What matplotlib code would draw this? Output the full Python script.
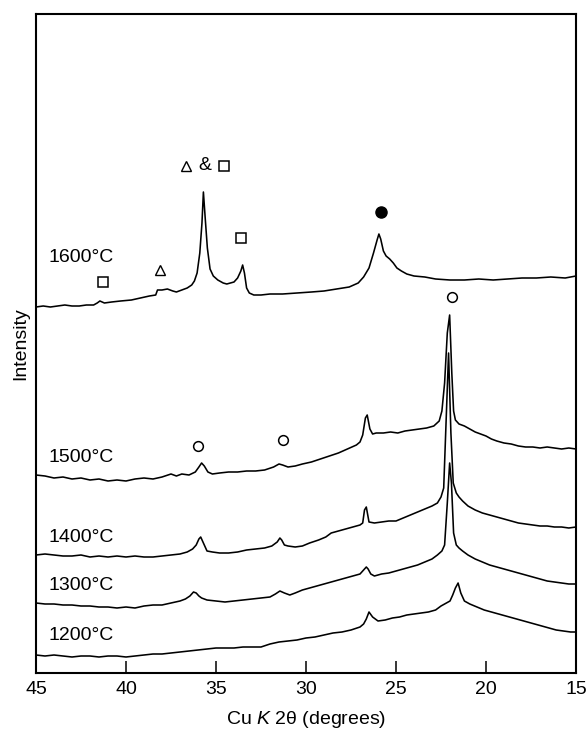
import matplotlib
matplotlib.use("Agg")
import matplotlib.pyplot as plt

plt.rcParams['font.family'] = ['Liberation Sans', 'DejaVu Sans']
plt.rcParams['mathtext.fontset'] = 'custom'
plt.rcParams['mathtext.rm'] = 'Liberation Sans'
plt.rcParams['mathtext.it'] = 'Liberation Sans:italic'

# ---- data (2-theta in degrees, intensity in arbitrary offset units) ----
tt_1600 = [45, 44.6, 44.2, 43.8, 43.4, 43.0, 42.6, 42.2, 41.8, 41.6, 41.45, 41.2, 40.8, 40.3,
           39.7, 39.2, 38.7, 38.35, 38.25, 38.0, 37.7, 37.4, 37.2, 36.9, 36.6, 36.35, 36.2,
           36.05, 35.9, 35.78, 35.7, 35.6, 35.48, 35.33, 35.15, 34.9, 34.6, 34.4, 34.2, 34.0,
           33.8, 33.62, 33.52, 33.42, 33.3, 33.15, 32.9, 32.5, 32.0, 31.3, 30.5, 29.7, 29.0,
           28.3, 27.6, 27.1, 26.8, 26.5, 26.25, 26.05, 25.95, 25.85, 25.7, 25.55, 25.35,
           25.15, 24.95, 24.7, 24.4, 24.0, 23.4, 22.8, 22.0, 21.2, 20.4, 19.6, 18.8, 18.0,
           17.2, 16.4, 15.6, 15]
int_1600 = [366, 367, 366, 367, 368, 367, 367, 368, 368, 370, 372, 370, 371, 372,
            373, 375, 377, 378, 383, 383, 384, 382, 381, 383, 385, 388, 392,
            400, 420, 450, 481, 455, 425, 404, 397, 393, 390, 389, 390, 391,
            395, 402, 408, 400, 385, 380, 378, 378, 379, 379, 380, 381, 382,
            384, 386, 390, 396, 405, 420, 433, 439, 434, 422, 417, 414,
            410, 405, 402, 399, 397, 396, 394, 393, 393, 394, 393, 394, 395,
            395, 396, 395, 397]

tt_1500 = [45, 44.5, 44.0, 43.5, 43.0, 42.5, 42.0, 41.5, 41.0, 40.5, 40.0, 39.5, 39.0, 38.5,
           38.0, 37.5, 37.2, 36.9, 36.5, 36.15, 35.95, 35.8, 35.65, 35.45, 35.2, 34.8, 34.3,
           33.8, 33.3, 32.8, 32.3, 31.8, 31.5, 31.3, 31.0, 30.6, 30.2, 29.7, 29.2, 28.7,
           28.2, 27.7, 27.2, 27.0, 26.85, 26.7, 26.6, 26.45, 26.3, 26.1, 25.7, 25.3, 24.9,
           24.5, 24.1, 23.7, 23.3, 22.9, 22.6, 22.45, 22.3, 22.15, 22.02, 21.9, 21.8, 21.7,
           21.5, 21.2, 20.9, 20.6, 20.3, 20.0, 19.7, 19.4, 19.0, 18.6, 18.2, 17.8, 17.4,
           17.0, 16.6, 16.2, 15.8, 15.4, 15]
int_1500 = [198, 197, 195, 196, 194, 195, 193, 194, 192, 193, 192, 194, 195, 194,
            196, 199, 197, 199, 198, 201, 206, 210, 207, 201, 199, 200, 201,
            201, 202, 202, 203, 206, 209, 208, 206, 207, 209, 211, 214, 217,
            220, 224, 228, 231, 238, 255, 258, 244, 239, 240, 240, 241, 240,
            242, 243, 244, 245, 247, 252, 262, 290, 340, 358, 300, 262, 253,
            249, 247, 244, 241, 239, 237, 234, 232, 230, 229, 227, 226, 226,
            225, 226, 225, 224, 225, 224]

tt_1400 = [45, 44.5, 44.0, 43.5, 43.0, 42.5, 42.0, 41.5, 41.0, 40.5, 40.0, 39.5, 39.0, 38.5,
           38.0, 37.5, 37.0, 36.6, 36.3, 36.1, 35.95, 35.85, 35.7, 35.5, 35.2, 34.8, 34.3,
           33.8, 33.3, 32.8, 32.3, 31.9, 31.6, 31.45, 31.35, 31.2, 31.0, 30.6, 30.2, 29.8,
           29.3, 28.9, 28.6, 28.2, 27.8, 27.4, 27.0, 26.85, 26.75, 26.65, 26.5, 26.2, 25.8,
           25.4, 25.0, 24.6, 24.2, 23.8, 23.4, 23.0, 22.7, 22.5, 22.35, 22.2, 22.08, 21.95,
           21.82, 21.65, 21.5, 21.3, 21.0, 20.6, 20.2, 19.8, 19.4, 19.0, 18.6, 18.2, 17.8,
           17.4, 17.0, 16.6, 16.2, 15.8, 15.4, 15]
int_1400 = [118, 119, 118, 117, 117, 118, 116, 117, 116, 117, 116, 117, 116, 116,
            117, 118, 119, 121, 124, 128, 134, 136, 130, 122, 121, 120, 120,
            121, 123, 124, 125, 127, 131, 135, 133, 128, 127, 126, 127, 130,
            133, 136, 140, 142, 144, 146, 148, 150, 163, 166, 151, 150, 151,
            152, 152, 155, 158, 161, 164, 167, 170, 176, 185, 260, 320, 240,
            190, 180, 176, 172, 167, 163, 160, 158, 156, 154, 152, 150, 149,
            148, 147, 147, 146, 146, 145, 146]

tt_1300 = [45, 44.5, 44.0, 43.5, 43.0, 42.5, 42.0, 41.5, 41.0, 40.5, 40.0, 39.5, 39.0, 38.5,
           38.0, 37.5, 37.0, 36.7, 36.45, 36.25, 36.1, 35.95, 35.8, 35.5, 35.0, 34.5, 34.0,
           33.5, 33.0, 32.5, 32.0, 31.7, 31.45, 31.2, 30.9, 30.6, 30.2, 29.8, 29.4, 29.0,
           28.6, 28.2, 27.8, 27.4, 27.0, 26.8, 26.65, 26.55, 26.4, 26.2, 25.8, 25.4, 25.0,
           24.6, 24.2, 23.8, 23.4, 23.0, 22.7, 22.45, 22.3, 22.15, 22.02, 21.92, 21.8, 21.65,
           21.5, 21.3, 21.0, 20.6, 20.2, 19.8, 19.4, 19.0, 18.6, 18.2, 17.8, 17.4, 17.0,
           16.6, 16.2, 15.8, 15.4, 15]
int_1300 = [70, 69, 69, 68, 68, 67, 67, 66, 66, 65, 66, 65, 67, 68,
            68, 70, 72, 74, 77, 81, 80, 77, 75, 73, 72, 71, 72,
            73, 74, 75, 76, 79, 82, 80, 78, 80, 83, 85, 87, 89,
            91, 93, 95, 97, 99, 103, 106, 104, 99, 97, 99, 100, 102,
            104, 106, 108, 111, 114, 118, 122, 128, 170, 210, 190, 140, 128,
            125, 122, 118, 114, 111, 108, 106, 104, 102, 100, 98, 96, 94,
            92, 91, 90, 89, 89]

tt_1200 = [45, 44.5, 44.0, 43.5, 43.0, 42.5, 42.0, 41.5, 41.0, 40.5, 40.0, 39.5, 39.0, 38.5,
           38.0, 37.5, 37.0, 36.5, 36.0, 35.5, 35.0, 34.5, 34.0, 33.5, 33.0, 32.5, 32.0,
           31.5, 31.0, 30.5, 30.0, 29.5, 29.0, 28.5, 28.0, 27.5, 27.0, 26.8, 26.65, 26.5,
           26.3, 26.0, 25.6, 25.2, 24.8, 24.4, 24.0, 23.6, 23.2, 22.8, 22.5, 22.2, 22.0,
           21.85, 21.7, 21.55, 21.4, 21.2, 20.9, 20.5, 20.1, 19.7, 19.3, 18.9, 18.5, 18.1,
           17.7, 17.3, 16.9, 16.5, 16.1, 15.7, 15.3, 15]
int_1200 = [18, 17, 18, 17, 16, 17, 17, 16, 17, 17, 16, 17, 18, 19,
            19, 20, 21, 22, 23, 24, 25, 25, 25, 26, 26, 26, 29,
            31, 32, 33, 35, 36, 38, 40, 41, 43, 46, 49, 54, 61,
            56, 52, 53, 55, 56, 58, 59, 60, 61, 63, 67, 70, 72,
            78, 85, 90, 80, 72, 69, 66, 63, 61, 59, 57, 55, 53,
            51, 49, 47, 45, 43, 42, 41, 41]

temps = ["1600°C", "1500°C", "1400°C", "1300°C", "1200°C"]
label_y = [415, 216, 136, 87, 37]

# phase markers: (2theta, height)
sq_x, sq_y = [41.3, 34.55, 33.6], [391, 507, 435]
tri_x, tri_y = [38.1, 36.65], [403, 507]
amp_x, amp_y = [35.6], [507]
fc_x, fc_y = [25.85], [461]
oc_x, oc_y = [21.9, 36.0, 31.28], [376, 227, 233]

fig = plt.figure(figsize=(5.87, 7.38), dpi=100)
ax = fig.add_axes([36 / 587, 65 / 738, 540 / 587, 659 / 738])

lw = 1.15
for tt, it in [(tt_1600, int_1600), (tt_1500, int_1500), (tt_1400, int_1400),
               (tt_1300, int_1300), (tt_1200, int_1200)]:
    ax.plot(tt, it, color='black', lw=lw)

for t, y in zip(temps, label_y):
    ax.text(42.5, y, t, fontsize=14, ha='center', va='center')

ms = 7
ax.plot(sq_x, sq_y, ls='none', marker='s', ms=ms, mfc='white', mec='black', mew=1.1)
ax.plot(tri_x, tri_y, ls='none', marker='^', ms=ms, mfc='white', mec='black', mew=1.0)
for x, y in zip(amp_x, amp_y):
    ax.text(x, y, "&", fontsize=14, ha='center', va='center')
ax.plot(fc_x, fc_y, ls='none', marker='o', ms=ms + 1, mfc='black', mec='black')
ax.plot(oc_x, oc_y, ls='none', marker='o', ms=ms, mfc='white', mec='black', mew=1.1)

ax.set_xlim(45, 15)
ax.set_ylim(0, 659)
ax.set_xticks([45, 40, 35, 30, 25, 20, 15])
ax.set_xticklabels(['45', '40', '35', '30', '25', '20', '15'])
ax.tick_params(axis='x', direction='in', length=9, width=1.1, labelsize=14, pad=6)
ax.set_yticks([])
for s in ax.spines.values():
    s.set_linewidth(1.5)

ax.set_xlabel("Cu $K$ 2θ (degrees)", fontsize=14, labelpad=8)
ax.set_ylabel("Intensity", fontsize=14, labelpad=5)

fig.savefig("out.png", dpi=100)
